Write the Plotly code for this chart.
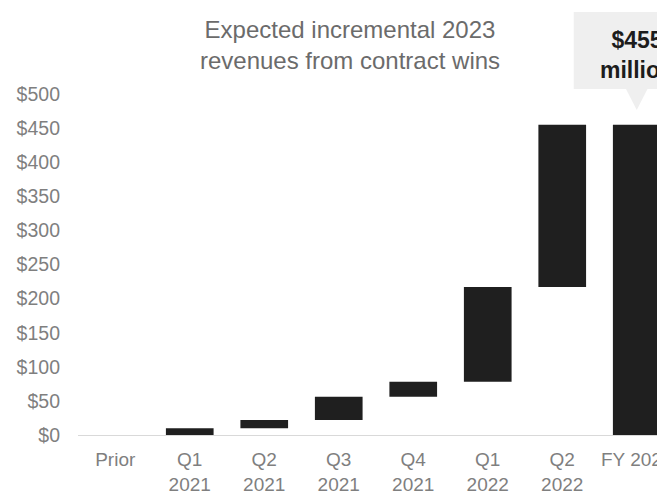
import plotly.graph_objects as go

categories = ["Prior", "Q1<br>2021", "Q2<br>2021", "Q3<br>2021", "Q4<br>2021",
              "Q1<br>2022", "Q2<br>2022", "FY 2023"]
measures = ["absolute", "relative", "relative", "relative", "relative",
            "relative", "relative", "total"]
values = [0, 10, 12, 34, 22, 139, 238, 0]
y_ticks = [0, 50, 100, 150, 200, 250, 300, 350, 400, 450, 500]
y_tick_labels = ["$0", "$50", "$100", "$150", "$200", "$250", "$300",
                 "$350", "$400", "$450", "$500"]
title_text = "Expected incremental 2023<br>revenues from contract wins"
callout_text = "<b>$455<br>million</b>"

FONT = "Liberation Sans, Arial, Helvetica, sans-serif"
BAR = "#1f1f1f"
GREY = "#7f7f7f"
CALLOUT_BG = "#efefef"

fig = go.Figure(go.Waterfall(
    x=categories,
    y=values,
    measure=measures,
    increasing=dict(marker=dict(color=BAR, line=dict(width=0))),
    decreasing=dict(marker=dict(color=BAR, line=dict(width=0))),
    totals=dict(marker=dict(color=BAR, line=dict(width=0))),
    connector=dict(visible=False),
    textinfo="none",
    hoverinfo="x+y",
))

fig.update_layout(
    width=657, height=497, autosize=False,
    margin=dict(l=78, r=0, t=94, b=62, pad=0),
    paper_bgcolor="white", plot_bgcolor="white",
    font=dict(family=FONT, color=GREY, size=19),
    showlegend=False,
    waterfallgap=0.36,
    title=dict(text=title_text, x=350 / 657, xanchor="center", xref="container",
               y=1 - 38 / 497, yanchor="top", yref="container",
               font=dict(family=FONT, size=24, color="#6b6b6b")),
    xaxis=dict(type="category", range=[-0.5, 7.272], showgrid=False,
               automargin=False,
               showline=True, linecolor="#d9d9d9", linewidth=1,
               ticks="", ticklabelstandoff=7,
               tickfont=dict(size=19, color=GREY), zeroline=False),
    yaxis=dict(range=[0, 500], tickmode="array", tickvals=y_ticks,
               ticktext=y_tick_labels, automargin=False,
               showgrid=False, zeroline=False, showline=False, ticks="",
               ticklabelstandoff=17,
               tickfont=dict(size=19.5, color=GREY)),
)

# callout box + pointer (pixel-sized, anchored at the FY 2023 category and plot top)
fig.add_shape(
    type="rect", xref="x", yref="paper", xsizemode="pixel", ysizemode="pixel",
    xanchor=7, yanchor=1, x0=-63, x1=63, y0=5, y1=82,
    fillcolor=CALLOUT_BG, line=dict(width=0), layer="above",
)
fig.add_shape(
    type="path", xref="x", yref="paper", xsizemode="pixel", ysizemode="pixel",
    xanchor=7, yanchor=1, path="M -11,5.5 L 11,5.5 L 0,-16 Z",
    fillcolor=CALLOUT_BG, line=dict(width=0), layer="above",
)
fig.add_annotation(
    x=7, xref="x", y=1, yref="paper", yanchor="middle", xanchor="center",
    yshift=39, text=callout_text, showarrow=False,
    font=dict(family=FONT, size=23, color="#1c1c1c"),
    align="center",
)

fig.write_html("out.html")
